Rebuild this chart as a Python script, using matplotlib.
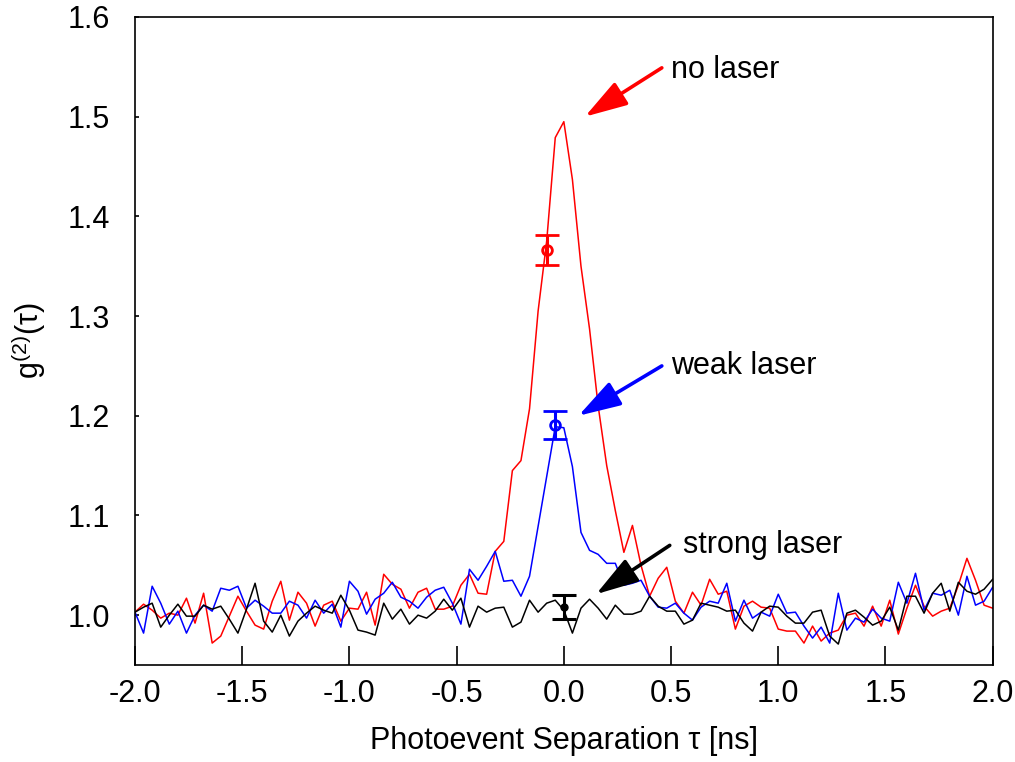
import numpy as np
import matplotlib
matplotlib.use("Agg")
import matplotlib.pyplot as plt

plt.rcParams['font.family'] = ['Liberation Sans', 'DejaVu Sans']
plt.rcParams['mathtext.default'] = 'regular'

# photoevent separation, 0.04 ns bins
tau = np.linspace(-2.0, 2.0, 101)

no_laser = [1.003, 1.011, 1.005, 0.997, 1.002, 1.000, 1.017, 0.992, 1.022, 0.972,
            0.979, 0.999, 1.019, 1.004, 0.990, 0.986, 1.014, 1.034, 0.995, 1.023,
            1.012, 0.989, 1.010, 1.014, 0.994, 1.007, 1.006, 1.023, 0.990, 1.041,
            1.031, 1.026, 1.007, 1.023, 1.027, 1.006, 1.006, 1.009, 1.030, 1.041,
            1.022, 1.021, 1.064, 1.074, 1.145, 1.155, 1.207, 1.305, 1.375, 1.479,
            1.495, 1.437, 1.350, 1.287, 1.210, 1.150, 1.105, 1.063, 1.090, 1.050,
            1.019, 1.037, 1.048, 1.014, 1.002, 1.023, 1.010, 1.036, 1.021, 1.024,
            0.986, 1.009, 1.014, 1.008, 1.007, 0.986, 0.984, 0.984, 0.972, 0.989,
            0.974, 0.982, 0.985, 1.000, 1.002, 0.989, 1.009, 0.989, 1.015, 0.981,
            1.007, 1.030, 1.009, 0.999, 1.004, 1.007, 1.030, 1.057, 1.035, 1.010,
            1.007]

weak_laser = [1.003, 0.982, 1.029, 1.012, 0.991, 1.004, 0.982, 1.000, 1.010, 1.004,
              1.027, 1.025, 1.029, 1.007, 1.015, 1.009, 1.002, 1.002, 1.014, 1.010,
              0.997, 1.015, 1.002, 1.011, 0.988, 1.034, 1.024, 1.001, 1.016, 1.022,
              1.033, 1.018, 1.014, 1.007, 1.018, 1.025, 1.028, 1.012, 0.991, 1.046,
              1.035, 1.049, 1.064, 1.034, 1.035, 1.019, 1.039, 1.089, 1.139, 1.189,
              1.188, 1.149, 1.083, 1.065, 1.061, 1.052, 1.052, 1.030, 1.032, 1.035,
              1.019, 1.008, 1.007, 1.012, 1.002, 0.995, 1.008, 1.014, 1.012, 1.032,
              0.994, 1.015, 0.997, 1.003, 0.999, 1.021, 1.002, 1.003, 0.989, 0.977,
              0.988, 0.972, 1.022, 0.985, 0.997, 0.993, 1.006, 0.997, 0.994, 1.033,
              1.012, 1.042, 1.005, 1.022, 1.020, 1.025, 1.000, 1.039, 1.010, 1.014,
              1.028]

strong_laser = [1.003, 1.008, 1.012, 0.988, 1.000, 1.011, 0.999, 0.999, 1.010, 1.006,
                1.009, 0.996, 0.982, 1.006, 1.032, 0.994, 0.983, 1.000, 0.979, 0.994,
                1.002, 1.009, 1.005, 1.002, 1.020, 1.005, 0.985, 0.983, 0.980, 1.012,
                0.996, 1.006, 0.991, 1.000, 0.997, 1.004, 1.016, 1.005, 1.017, 0.988,
                1.009, 1.003, 1.007, 1.008, 0.988, 0.993, 1.015, 1.003, 1.012, 1.015,
                1.005, 0.982, 1.007, 1.016, 1.007, 0.996, 1.010, 1.001, 1.001, 1.004,
                1.019, 1.009, 1.004, 1.004, 0.991, 0.995, 1.012, 1.010, 1.008, 1.004,
                1.005, 0.992, 0.984, 1.003, 1.009, 1.008, 0.999, 0.992, 0.992, 1.003,
                1.005, 0.979, 0.971, 1.002, 1.005, 0.998, 0.990, 0.994, 1.008, 0.985,
                1.019, 1.019, 1.002, 1.022, 1.032, 1.004, 1.033, 1.024, 1.021, 1.026,
                1.036]

# measured g2(0) points with errors: x, y, err
err_x = [-0.08, -0.04, 0.0]
err_y = [1.366, 1.191, 1.008]
err_e = [0.015, 0.014, 0.012]
err_col = ['#ff0000', '#0000ff', '#000000']

labels = ['no laser', 'weak laser', 'strong laser']
label_xy = [(0.50, 1.547), (0.50, 1.250), (0.555, 1.070)]
arrow_tail = [(0.457, 1.549), (0.457, 1.250), (0.494, 1.070)]
arrow_head = [(0.098, 1.500), (0.068, 1.200), (0.150, 1.021)]

fs = 22

fig = plt.figure(figsize=(10.15, 7.62), dpi=100)
ax = fig.add_axes([0.133, 0.1273, 0.845, 0.8504])

ax.plot(tau, no_laser, color='#ff0000', lw=1.1)
ax.plot(tau, weak_laser, color='#0000ff', lw=1.1)
ax.plot(tau, strong_laser, color='#000000', lw=1.1)

for i in range(3):
    if i < 2:
        ax.errorbar(err_x[i], err_y[i], yerr=err_e[i], color=err_col[i], fmt='o',
                    mfc='none', mec=err_col[i], ms=7, mew=2, elinewidth=2.2,
                    capsize=8.5, capthick=2.2)
    else:
        ax.errorbar(err_x[i], err_y[i], yerr=err_e[i], color=err_col[i], fmt='o',
                    ms=5, elinewidth=2.2, capsize=8.5, capthick=2.2)
    ax.annotate('', xy=arrow_head[i], xytext=arrow_tail[i],
                arrowprops=dict(arrowstyle='-|>,head_length=1.3,head_width=0.4',
                                color=err_col[i], lw=2.6, mutation_scale=20,
                                shrinkA=0, shrinkB=0))
    ax.text(label_xy[i][0], label_xy[i][1], labels[i], fontsize=fs, ha='left',
            va='center')

ax.set_xlim(-2.0, 2.0)
ax.set_ylim(0.95, 1.6)
ax.set_xticks(np.arange(-2.0, 2.01, 0.5))
ax.set_xticklabels(['%.1f' % v for v in np.arange(-2.0, 2.01, 0.5)])
ax.set_yticks(np.arange(1.0, 1.61, 0.1))
ax.set_yticklabels(['%.1f' % v for v in np.arange(1.0, 1.61, 0.1)])
ax.tick_params(axis='x', direction='in', length=14, width=1.2, labelsize=fs, pad=10)
ax.tick_params(axis='y', direction='in', length=3, width=1.2, labelsize=fs, pad=18)
for s in ax.spines.values():
    s.set_linewidth(1.2)

ax.set_xlabel('Photoevent Separation τ [ns]', fontsize=fs, labelpad=12)
ax.set_ylabel('g$^{(2)}$(τ)', fontsize=fs, labelpad=14)

fig.savefig('out.png', dpi=100)
